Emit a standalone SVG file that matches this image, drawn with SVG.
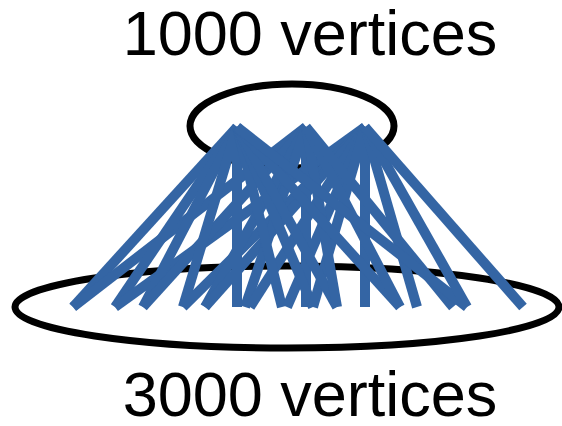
<svg xmlns="http://www.w3.org/2000/svg" width="562" height="426" viewBox="0 0 562 426">
<style>
.ring{fill:none;stroke:#000;stroke-width:7}
.e{stroke:#3465a4;stroke-width:10;stroke-linecap:butt}
.t{font-family:"Liberation Sans",Arial,sans-serif;font-size:63px;fill:#000;text-anchor:middle}
</style>
<rect width="562" height="426" fill="#fff"/>
<g id="top-set"><ellipse class="ring" cx="292" cy="126" rx="102" ry="42"/><text class="t" x="310" y="55">1000 vertices</text></g>
<g id="bottom-set"><ellipse class="ring" cx="287" cy="307" rx="272" ry="41"/><text class="t" x="310" y="416">3000 vertices</text></g>
<g id="edges">
<line class="e" x1="237" y1="127" x2="73" y2="307"/>
<line class="e" x1="306" y1="127" x2="73" y2="307"/>
<line class="e" x1="237" y1="127" x2="115" y2="307"/>
<line class="e" x1="365" y1="127" x2="115" y2="307"/>
<line class="e" x1="237" y1="127" x2="143" y2="307"/>
<line class="e" x1="306" y1="127" x2="143" y2="307"/>
<line class="e" x1="237" y1="127" x2="183" y2="307"/>
<line class="e" x1="365" y1="127" x2="183" y2="307"/>
<line class="e" x1="306" y1="127" x2="205" y2="307"/>
<line class="e" x1="365" y1="127" x2="205" y2="307"/>
<line class="e" x1="237" y1="127" x2="237" y2="307"/>
<line class="e" x1="306" y1="127" x2="245" y2="307"/>
<line class="e" x1="365" y1="127" x2="250" y2="307"/>
<line class="e" x1="237" y1="127" x2="282" y2="307"/>
<line class="e" x1="365" y1="127" x2="287" y2="307"/>
<line class="e" x1="306" y1="127" x2="306" y2="307"/>
<line class="e" x1="237" y1="127" x2="313" y2="307"/>
<line class="e" x1="365" y1="127" x2="313" y2="307"/>
<line class="e" x1="237" y1="127" x2="337" y2="307"/>
<line class="e" x1="306" y1="127" x2="337" y2="307"/>
<line class="e" x1="365" y1="127" x2="365" y2="307"/>
<line class="e" x1="237" y1="127" x2="400" y2="307"/>
<line class="e" x1="306" y1="127" x2="400" y2="307"/>
<line class="e" x1="365" y1="127" x2="417" y2="307"/>
<line class="e" x1="306" y1="127" x2="453" y2="307"/>
<line class="e" x1="237" y1="127" x2="467" y2="307"/>
<line class="e" x1="365" y1="127" x2="467" y2="307"/>
<line class="e" x1="365" y1="127" x2="523" y2="307"/>
</g>
</svg>
